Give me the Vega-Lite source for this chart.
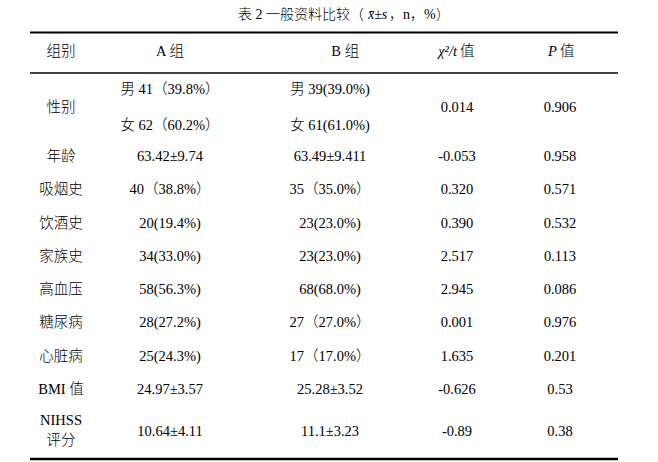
{
  "$schema": "https://vega.github.io/schema/vega-lite/v6.json",
  "width": 588,
  "height": 462,
  "autosize": {"type": "none"},
  "padding": {"left": 30, "right": 40, "top": 0, "bottom": 0},
  "background": "white",
  "config": {"view": {"stroke": null}},
  "datasets": {
    "cells": [
      {"c": 0, "r": 1, "t": "组别"},
      {"c": 1, "r": 1, "t": "A 组"},
      {"c": 2.12, "r": 1, "t": "B 组"},
      {"c": 0, "r": 2.5, "t": "性别"},
      {"c": 1, "r": 2, "t": "男 41（39.8%）"},
      {"c": 2, "r": 2, "t": "男 39(39.0%)"},
      {"c": 1, "r": 3, "t": "女 62（60.2%）"},
      {"c": 2, "r": 3, "t": "女 61(61.0%)"},
      {"c": 3, "r": 2.5, "t": "0.014"},
      {"c": 4, "r": 2.5, "t": "0.906"},
      {"c": 0, "r": 4, "t": "年龄"},
      {"c": 1, "r": 4, "t": "63.42±9.74"},
      {"c": 2, "r": 4, "t": "63.49±9.411"},
      {"c": 3, "r": 4, "t": "-0.053"},
      {"c": 4, "r": 4, "t": "0.958"},
      {"c": 0, "r": 5, "t": "吸烟史"},
      {"c": 1, "r": 5, "t": "40（38.8%）"},
      {"c": 2, "r": 5, "t": "35（35.0%）"},
      {"c": 3, "r": 5, "t": "0.320"},
      {"c": 4, "r": 5, "t": "0.571"},
      {"c": 0, "r": 6, "t": "饮酒史"},
      {"c": 1, "r": 6, "t": "20(19.4%)"},
      {"c": 2, "r": 6, "t": "23(23.0%)"},
      {"c": 3, "r": 6, "t": "0.390"},
      {"c": 4, "r": 6, "t": "0.532"},
      {"c": 0, "r": 7, "t": "家族史"},
      {"c": 1, "r": 7, "t": "34(33.0%)"},
      {"c": 2, "r": 7, "t": "23(23.0%)"},
      {"c": 3, "r": 7, "t": "2.517"},
      {"c": 4, "r": 7, "t": "0.113"},
      {"c": 0, "r": 8, "t": "高血压"},
      {"c": 1, "r": 8, "t": "58(56.3%)"},
      {"c": 2, "r": 8, "t": "68(68.0%)"},
      {"c": 3, "r": 8, "t": "2.945"},
      {"c": 4, "r": 8, "t": "0.086"},
      {"c": 0, "r": 9, "t": "糖尿病"},
      {"c": 1, "r": 9, "t": "28(27.2%)"},
      {"c": 2, "r": 9, "t": "27（27.0%）"},
      {"c": 3, "r": 9, "t": "0.001"},
      {"c": 4, "r": 9, "t": "0.976"},
      {"c": 0, "r": 10, "t": "心脏病"},
      {"c": 1, "r": 10, "t": "25(24.3%)"},
      {"c": 2, "r": 10, "t": "17（17.0%）"},
      {"c": 3, "r": 10, "t": "1.635"},
      {"c": 4, "r": 10, "t": "0.201"},
      {"c": 0, "r": 11, "t": "BMI 值"},
      {"c": 1, "r": 11, "t": "24.97±3.57"},
      {"c": 2, "r": 11, "t": "25.28±3.52"},
      {"c": 3, "r": 11, "t": "-0.626"},
      {"c": 4, "r": 11, "t": "0.53"},
      {"c": 0, "r": 11.74, "t": "NIHSS"},
      {"c": 0, "r": 12.33, "t": "评分"},
      {"c": 1, "r": 12, "t": "10.64±4.11"},
      {"c": 2, "r": 12, "t": "11.1±3.23"},
      {"c": 3, "r": 12, "t": "-0.89"},
      {"c": 4, "r": 12, "t": "0.38"}
    ],
    "headItalic": [
      {"c": 3, "r": 1, "t": "χ²/t"},
      {"c": 3.97, "r": 1, "t": "P"}
    ],
    "headPlain": [
      {"c": 3, "r": 1, "t": "值"},
      {"c": 3.97, "r": 1, "t": "值"}
    ],
    "titleLeft": [{"c": 2.268, "r": 0, "t": "表 2  一般资料比较（"}],
    "titleItalic": [{"c": 2.299, "r": 0, "t": "x̄±s"}],
    "titleRight": [{"c": 2.465, "r": 0, "t": "，n，%）"}],
    "rulesThick": [{"r": 0.47}],
    "rulesMid": [{"r": 1.55}],
    "rulesBottom": [{"r": 13}]
  },
  "encoding": {
    "x": {"field": "c", "type": "quantitative", "axis": null,
      "scale": {"domain": [0, 1, 2, 3, 4], "range": [31, 140, 300, 427, 530], "nice": false, "zero": false}},
    "y": {"field": "r", "type": "quantitative", "axis": null,
      "scale": {"domain": [0, 1, 2, 3, 4, 11, 12, 13], "range": [15, 52, 90, 126, 157, 390, 432, 459], "nice": false, "zero": false}}
  },
  "layer": [
    {
      "data": {"name": "cells"},
      "mark": {"type": "text", "font": "Liberation Serif, Noto Sans CJK SC", "fontSize": 14.5, "fontWeight": 300, "color": "black", "align": "center", "baseline": "middle"},
      "encoding": {"text": {"field": "t", "type": "nominal"}}
    },
    {
      "data": {"name": "headItalic"},
      "mark": {"type": "text", "font": "Liberation Serif", "fontStyle": "italic", "fontSize": 14.5, "color": "black", "align": "right", "baseline": "middle"},
      "encoding": {"text": {"field": "t", "type": "nominal"}}
    },
    {
      "data": {"name": "headPlain"},
      "mark": {"type": "text", "font": "Liberation Serif, Noto Sans CJK SC", "fontSize": 14.5, "fontWeight": 300, "color": "black", "align": "left", "dx": 3, "baseline": "middle"},
      "encoding": {"text": {"field": "t", "type": "nominal"}}
    },
    {
      "data": {"name": "titleLeft"},
      "mark": {"type": "text", "font": "Liberation Serif, Noto Sans CJK SC", "fontSize": 14, "fontWeight": 300, "color": "black", "align": "right", "baseline": "middle"},
      "encoding": {"text": {"field": "t", "type": "nominal"}}
    },
    {
      "data": {"name": "titleItalic"},
      "mark": {"type": "text", "font": "Liberation Serif", "fontStyle": "italic", "fontSize": 14, "color": "black", "align": "left", "baseline": "middle"},
      "encoding": {"text": {"field": "t", "type": "nominal"}}
    },
    {
      "data": {"name": "titleRight"},
      "mark": {"type": "text", "font": "Liberation Serif, Noto Sans CJK SC", "fontSize": 14, "fontWeight": 300, "color": "black", "align": "left", "baseline": "middle"},
      "encoding": {"text": {"field": "t", "type": "nominal"}}
    },
    {
      "data": {"name": "rulesThick"},
      "mark": {"type": "rule", "color": "black", "strokeWidth": 2},
      "encoding": {"x": null}
    },
    {
      "data": {"name": "rulesMid"},
      "mark": {"type": "rule", "color": "black", "strokeWidth": 1.5},
      "encoding": {"x": null}
    },
    {
      "data": {"name": "rulesBottom"},
      "mark": {"type": "rule", "color": "black", "strokeWidth": 2.5},
      "encoding": {"x": null}
    }
  ]
}
